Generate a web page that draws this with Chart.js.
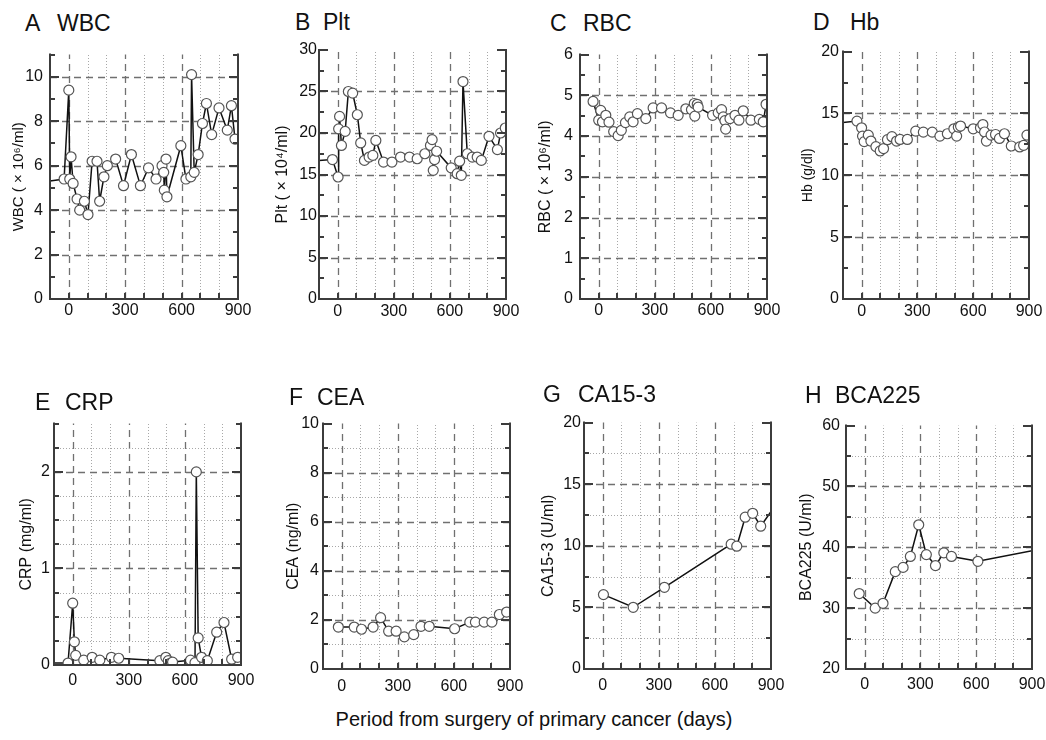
<!DOCTYPE html>
<html><head><meta charset="utf-8">
<script src="https://cdn.jsdelivr.net/npm/chart.js@4.4.1/dist/chart.umd.min.js"></script>
<style>
html,body{margin:0;padding:0;background:#fff;}
body{width:1046px;height:740px;position:relative;overflow:hidden;font-family:"Liberation Sans",Arial,Helvetica,sans-serif;color:#111;}
canvas{position:absolute;}
.t{position:absolute;font-size:23px;line-height:23px;white-space:nowrap;}
.xt{position:absolute;font-size:20px;line-height:20px;white-space:nowrap;transform:translateX(-50%);}
</style></head><body>
<script>
// ---------------- data ----------------
const xTickLabels = [0, 300, 600, 900];

const wbcDays   = [-150, -25, 0, 5, 12, 23, 44, 58, 83, 102, 124, 150, 164, 187, 205, 249, 291, 333, 381, 424, 464, 496, 505, 508, 517, 522, 596, 623, 649, 653, 667, 688, 711, 732, 760, 799, 843, 865, 884];
const wbcValues = [5.25, 5.4, 9.4, 5.4, 6.4, 5.2, 4.5, 4.0, 4.4, 3.8, 6.2, 6.2, 4.4, 5.5, 6.0, 6.3, 5.1, 6.5, 5.1, 5.9, 5.4, 6.0, 5.7, 4.9, 6.3, 4.6, 6.9, 5.4, 5.5, 10.1, 5.7, 6.5, 7.9, 8.8, 7.4, 8.6, 7.6, 8.7, 7.2];
const wbcTickLabels = [0, 2, 4, 6, 8, 10];

const pltDays   = [-150, -28, 2, 5, 10, 20, 40, 57, 80, 105, 123, 143, 168, 188, 204, 245, 290, 336, 384, 425, 466, 496, 505, 511, 518, 529, 607, 639, 652, 661, 670, 693, 720, 746, 768, 809, 854, 871, 896];
const pltValues = [16.6, 16.8, 14.7, 20.5, 22.0, 18.5, 20.2, 25.0, 24.8, 22.2, 18.8, 16.7, 17.1, 17.3, 19.1, 16.5, 16.5, 17.1, 17.1, 16.9, 17.5, 18.5, 19.2, 15.5, 16.8, 17.8, 15.8, 15.1, 16.6, 14.9, 26.2, 17.5, 17.1, 17.1, 16.7, 19.6, 18.0, 20.0, 20.6];
const pltTickLabels = [0, 5, 10, 15, 20, 25, 30];

const rbcDays   = [-30, 0, 11, 20, 38, 55, 80, 104, 121, 143, 166, 184, 207, 252, 291, 336, 384, 425, 466, 496, 511, 514, 527, 532, 609, 639, 657, 666, 675, 679, 702, 729, 750, 773, 814, 859, 880, 895];
const rbcValues = [4.85, 4.39, 4.63, 4.35, 4.51, 4.34, 4.11, 4.01, 4.14, 4.33, 4.47, 4.35, 4.55, 4.43, 4.69, 4.69, 4.57, 4.51, 4.67, 4.65, 4.8, 4.49, 4.78, 4.71, 4.51, 4.57, 4.65, 4.47, 4.38, 4.17, 4.43, 4.51, 4.39, 4.62, 4.39, 4.41, 4.35, 4.78];
const rbcTickLabels = [0, 1, 2, 3, 4, 5, 6];

const hbDays   = [-150, -25, 0, 5, 14, 36, 50, 77, 100, 118, 139, 163, 188, 207, 246, 291, 332, 380, 421, 461, 496, 511, 520, 532, 600, 639, 652, 661, 671, 696, 720, 741, 768, 805, 850, 871, 889];
const hbValues = [14.2, 14.38, 13.84, 13.17, 12.72, 13.25, 12.77, 12.32, 11.97, 12.16, 12.88, 13.12, 12.77, 12.9, 12.9, 13.57, 13.49, 13.49, 13.17, 13.36, 13.76, 13.17, 13.9, 13.98, 13.76, 13.84, 14.1, 13.5, 12.77, 13.25, 13.3, 12.98, 13.36, 12.37, 12.29, 12.42, 13.25];
const hbTickLabels = [0, 5, 10, 15, 20];

const crpDays   = [-150, -25, 0, 9, 16, 59, 104, 145, 207, 246, 466, 498, 511, 523, 534, 630, 654, 661, 671, 689, 720, 770, 809, 850, 882, 950];
const crpValues = [0.02, 0.02, 0.64, 0.24, 0.10, 0.05, 0.08, 0.05, 0.08, 0.07, 0.045, 0.08, 0.045, 0.02, 0.03, 0.05, 0.025, 2.0, 0.28, 0.08, 0.045, 0.34, 0.44, 0.06, 0.08, 0.08];
const crpTickLabels = [0, 1, 2];

const ceaDays   = [-18, 67, 106, 168, 208, 251, 291, 335, 385, 424, 468, 604, 685, 715, 762, 803, 843, 882, 930];
const ceaValues = [1.71, 1.71, 1.62, 1.71, 2.09, 1.54, 1.54, 1.31, 1.40, 1.74, 1.74, 1.64, 1.91, 1.91, 1.91, 1.91, 2.22, 2.32, 2.45];
const ceaTickLabels = [0, 2, 4, 6, 8, 10];

const ca153Days   = [4, 163, 330, 687, 717, 762, 802, 845, 920];
const ca153Values = [6.04, 5.01, 6.63, 10.13, 9.97, 12.32, 12.64, 11.59, 13.2];
const ca153TickLabels = [0, 5, 10, 15, 20];

const bca225Days   = [-29, 57, 99, 165, 207, 246, 291, 332, 381, 426, 467, 609, 930];
const bca225Values = [32.4, 30.0, 30.8, 36.0, 36.7, 38.5, 43.7, 38.8, 37.0, 39.1, 38.5, 37.7, 39.6];
const bca225TickLabels = [20, 30, 40, 50, 60];

const xAxisTitle = 'Period from surgery of primary cancer (days)';

// ---------------- panels ----------------
const panels = [
  {letter:'A', name:'WBC', yTitle:'WBC ( × 10⁶/ml)', days:wbcDays, values:wbcValues, yMin:0, yMax:11, yStep:1, yLabels:wbcTickLabels, hDotted:false,
   box:[50,50,188,249], lx:25, nx:57, base:31, yTS:15, yTO:31, yPad:7, xPad:2},
  {letter:'B', name:'Plt', yTitle:'Plt ( × 10⁴/ml)', days:pltDays, values:pltValues, yMin:0, yMax:30, yStep:2.5, yLabels:pltTickLabels, hDotted:false,
   box:[319,50,187,249], lx:295, nx:323, base:30, yTS:16, yTO:36, yPad:2, xPad:3},
  {letter:'C', name:'RBC', yTitle:'RBC ( × 10⁶/ml)', days:rbcDays, values:rbcValues, yMin:0, yMax:6, yStep:0.5, yLabels:rbcTickLabels, hDotted:false,
   box:[580,50,187,249], lx:550, nx:583, base:31, yTS:16, yTO:34, yPad:7, xPad:2},
  {letter:'D', name:'Hb', yTitle:'Hb (g/dl)', days:hbDays, values:hbValues, yMin:0, yMax:20, yStep:2.5, yLabels:hbTickLabels, hDotted:false,
   box:[843,50,186,249], lx:813, nx:850, base:30, yTS:14, yTO:35, yPad:4, xPad:3},
  {letter:'E', name:'CRP', yTitle:'CRP (mg/ml)', days:crpDays, values:crpValues, yMin:0, yMax:2.5, yStep:0.25, yLabels:crpTickLabels, hDotted:true,
   box:[54,422,187,243], lx:35, nx:65, base:410, yTS:16, yTO:27, yPad:4, xPad:6},
  {letter:'F', name:'CEA', yTitle:'CEA (ng/ml)', days:ceaDays, values:ceaValues, yMin:0, yMax:10, yStep:1, yLabels:ceaTickLabels, hDotted:true,
   box:[323,422,187,247], lx:289, nx:317, base:405, yTS:16, yTO:29, yPad:4, xPad:8},
  {letter:'G', name:'CA15-3', yTitle:'CA15-3 (U/ml)', days:ca153Days, values:ca153Values, yMin:0, yMax:20, yStep:2.5, yLabels:ca153TickLabels, hDotted:true,
   box:[584,422,187,247], lx:543, nx:578, base:402, yTS:16, yTO:35, yPad:3, xPad:7},
  {letter:'H', name:'BCA225', yTitle:'BCA225 (U/ml)', days:bca225Days, values:bca225Values, yMin:20, yMax:60, yStep:5, yLabels:bca225TickLabels, hDotted:true,
   box:[846,422,186,247], lx:805, nx:835, base:403, yTS:16, yTO:39, yPad:6, xPad:6}
];

const FONT = '"Liberation Sans", Arial, Helvetica, sans-serif';
const X_MIN = -100, X_MAX = 900;

function near(v, arr) { return arr.some(a => Math.abs(a - v) < 1e-6); }

const framePlugin = {
  id: 'frame',
  beforeDatasetsDraw(chart, args, o) {
    const {ctx, chartArea: a, scales: {x, y}} = chart;
    ctx.save();
    x.ticks.forEach(t => {
      const v = t.value;
      if (v <= x.min + 1e-6 || v >= x.max - 1e-6) return;
      const px = Math.round(x.getPixelForValue(v)) + 0.5;
      ctx.beginPath();
      if (near(v, o.xMajor)) { ctx.setLineDash([7, 5]); ctx.strokeStyle = '#707070'; ctx.lineWidth = 1.3; }
      else { ctx.setLineDash([1, 2]); ctx.strokeStyle = '#a8a8a8'; ctx.lineWidth = 1; }
      ctx.moveTo(px, a.bottom); ctx.lineTo(px, a.top); ctx.stroke();
    });
    y.ticks.forEach(t => {
      const v = t.value;
      if (v <= y.min + 1e-6 || v >= y.max - 1e-6) return;
      const major = near(v, o.yMajor);
      if (!major && !o.hDotted) return;
      const py = Math.round(y.getPixelForValue(v)) + 0.5;
      ctx.beginPath();
      if (major) { ctx.setLineDash([7, 5]); ctx.strokeStyle = '#707070'; ctx.lineWidth = 1.3; }
      else { ctx.setLineDash([1, 2]); ctx.strokeStyle = '#a8a8a8'; ctx.lineWidth = 1; }
      ctx.moveTo(a.left, py); ctx.lineTo(a.right, py); ctx.stroke();
    });
    ctx.restore();
  },
  afterDatasetsDraw(chart, args, o) {
    const {ctx, chartArea: a, scales: {x, y}} = chart;
    ctx.save();
    ctx.setLineDash([]);
    ctx.strokeStyle = '#3c3c3c';
    ctx.lineWidth = 2;
    ctx.beginPath();
    y.ticks.forEach(t => {
      const v = t.value;
      if (v <= y.min + 1e-6) return;
      const py = Math.round(y.getPixelForValue(v));
      const len = near(v, o.yMajor) ? 9 : 5;
      ctx.moveTo(a.left, py); ctx.lineTo(a.left + len, py);
      ctx.moveTo(a.right, py); ctx.lineTo(a.right - len, py);
    });
    x.ticks.forEach(t => {
      const v = t.value;
      if (v <= x.min + 1e-6 || v >= x.max - 1e-6) return;
      const px = Math.round(x.getPixelForValue(v));
      ctx.moveTo(px, a.bottom); ctx.lineTo(px, a.bottom - 6);
    });
    ctx.stroke();
    ctx.beginPath();
    ctx.moveTo(a.left, a.top - 1); ctx.lineTo(a.left, a.bottom); ctx.lineTo(a.right, a.bottom); ctx.lineTo(a.right, a.top - 1);
    ctx.stroke();
    ctx.restore();
  }
};

const YW = 50, PT = 12, PR = 24, XH = 30;

panels.forEach(p => {
  const [L, T, PW, PH] = p.box;
  const c = document.createElement('canvas');
  const w = YW + PW + PR, h = PT + PH + XH;
  c.width = w; c.height = h;
  c.style.width = w + 'px'; c.style.height = h + 'px';
  c.style.left = (L - YW) + 'px'; c.style.top = (T - PT) + 'px';
  document.body.appendChild(c);

  // panel title
  const l = document.createElement('div');
  l.className = 't'; l.textContent = p.letter;
  l.style.left = p.lx + 'px'; l.style.top = (p.base - 19.5) + 'px';
  document.body.appendChild(l);
  const n = document.createElement('div');
  n.className = 't'; n.textContent = p.name;
  n.style.left = p.nx + 'px'; n.style.top = (p.base - 19.5) + 'px';
  document.body.appendChild(n);

  const lh = p.yTS * 1.2;
  new Chart(c, {
    type: 'line',
    data: {
      datasets: [{
        data: p.days.map((d, i) => ({x: d, y: p.values[i]})),
        borderColor: '#111',
        borderWidth: 1.5,
        tension: 0,
        pointRadius: ctx => (ctx.raw && (ctx.raw.x < X_MIN || ctx.raw.x > X_MAX)) ? 0 : 5,
        pointBackgroundColor: '#fff',
        pointBorderColor: '#555',
        pointBorderWidth: 1.2
      }]
    },
    options: {
      responsive: false,
      animation: false,
      events: [],
      layout: {padding: {left: 0, top: PT, right: PR, bottom: 0}},
      plugins: {
        legend: {display: false},
        tooltip: {enabled: false},
        frame: {xMajor: [0, 300, 600], yMajor: p.yLabels, hDotted: p.hDotted}
      },
      scales: {
        x: {
          type: 'linear', min: X_MIN, max: X_MAX,
          grid: {display: false, drawTicks: false},
          border: {display: false},
          ticks: {
            stepSize: 100, autoSkip: false, maxRotation: 0, minRotation: 0,
            padding: p.xPad, color: '#111', font: {family: FONT, size: 16},
            callback: v => near(v, xTickLabels) ? String(v) : ''
          },
          afterFit: s => { s.height = XH; }
        },
        y: {
          type: 'linear', min: p.yMin, max: p.yMax,
          grid: {display: false, drawTicks: false},
          border: {display: false},
          ticks: {
            stepSize: p.yStep, autoSkip: false,
            padding: p.yPad, color: '#111', font: {family: FONT, size: 16},
            callback: v => near(v, p.yLabels) ? String(Math.round(v)) : ''
          },
          title: {
            display: true, text: p.yTitle, color: '#111',
            font: {family: FONT, size: p.yTS},
            padding: {top: Math.max(0, YW - p.yTO - lh / 2), bottom: 0}
          },
          afterFit: s => { s.width = YW; }
        }
      }
    },
    plugins: [framePlugin]
  });
});

const xt = document.createElement('div');
xt.className = 'xt'; xt.textContent = xAxisTitle;
xt.style.left = '534px'; xt.style.top = (726 - 16.9) + 'px';
document.body.appendChild(xt);
</script>
</body></html>
